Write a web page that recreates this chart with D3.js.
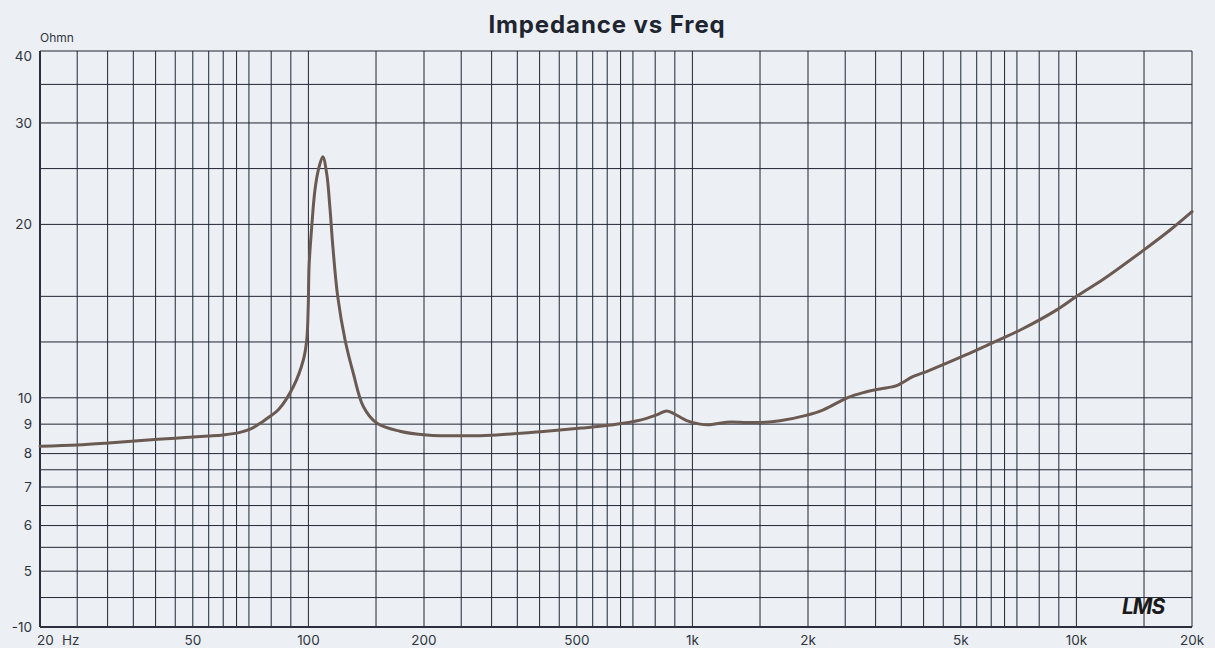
<!DOCTYPE html>
<html>
<head>
<meta charset="utf-8">
<script src="https://cdn.jsdelivr.net/npm/d3@7"></script>
<style>
  html, body { margin: 0; padding: 0; background: #ecf0f5; }
  svg { display: block; }
  text { font-family: Inter, "Noto Sans", sans-serif; }
</style>
</head>
<body>
<svg id="chart" width="1215" height="648"></svg>
<script>
// ---- data ----
const freq = [20, 25, 29.8, 36, 45, 55, 60, 66, 71, 76, 79, 83.5, 91.4, 97, 99, 99.9, 100.4, 102, 104, 106.2, 109,
  111.6, 113.7, 115.8, 119.2, 124.6, 130.9, 139, 150.6, 173, 203, 253, 309, 409, 515, 622, 719, 807, 857, 891,
  966, 1047, 1112, 1228, 1384, 1500, 1690, 1965, 2193, 2547, 2787, 3080, 3404, 3760, 4115, 5150, 6140, 7205,
  8888, 10080, 11750, 14790, 17540, 20000];
const impedance = [8.24, 8.28, 8.34, 8.42, 8.51, 8.58, 8.62, 8.70, 8.84, 9.09, 9.26, 9.53, 10.46, 11.63, 12.6, 14.4, 16.9, 19.8, 22.95, 24.9, 26.2,
  24.5, 21.5, 18.3, 15.0, 12.6, 11.03, 9.66, 9.04, 8.75, 8.62, 8.59, 8.62, 8.74, 8.86, 8.98, 9.12, 9.34, 9.49, 9.40,
  9.13, 9.0, 8.98, 9.07, 9.06, 9.06, 9.12, 9.31, 9.53, 10.02, 10.21, 10.36, 10.50, 10.89, 11.14, 11.87, 12.52, 13.15,
  14.21, 15.05, 16.06, 17.94, 19.56, 21.05];

const xGridValues = [20, 25, 30, 35, 40, 45, 50, 55, 60, 65, 70, 80, 90,
  100, 150, 200, 250, 300, 350, 400, 450, 500, 550, 600, 650, 700, 800, 900,
  1000, 1500, 2000, 2500, 3000, 3500, 4000, 4500, 5000, 5500, 6000, 6500, 7000, 8000, 9000,
  10000, 15000, 20000];
const yGridValues = [4, 4.5, 5, 5.5, 6, 6.5, 7, 7.5, 8, 9, 10, 12.5, 15, 20, 25, 30, 35, 40];

const xTickValues = [20, 50, 100, 200, 500, 1000, 2000, 5000, 10000, 20000];
const xTickLabels = ["20", "50", "100", "200", "500", "1k", "2k", "5k", "10k", "20k"];
const yTickValues = [40, 30, 20, 10, 9, 8, 7, 6, 5, 4];
const yTickLabels = ["40", "30", "20", "10", "9", "8", "7", "6", "5", "-10"];

const titleText = "Impedance vs Freq";
const yUnit = "Ohmn";
const xUnit = "Hz";
const watermark = "LMS";

// ---- layout ----
const W = 1215, H = 648;
const M = { left: 40, right: 23, top: 51, bottom: 21 };
const svg = d3.select("#chart");
svg.append("rect").attr("width", W).attr("height", H).attr("fill", "#ecf0f5");

const x = d3.scaleLog().domain([20, 20000]).range([M.left, W - M.right]);
const y = d3.scaleLog().domain([4, 40]).range([H - M.bottom, M.top]);

const gridColor = "#1f2633";
const g = svg.append("g");

// vertical grid
g.append("g").selectAll("line").data(xGridValues).join("line")
  .attr("x1", d => x(d)).attr("x2", d => x(d))
  .attr("y1", y(40)).attr("y2", y(4))
  .attr("stroke", gridColor).attr("stroke-width", 1);

// horizontal grid
g.append("g").selectAll("line").data(yGridValues).join("line")
  .attr("x1", x(20)).attr("x2", x(20000))
  .attr("y1", d => y(d)).attr("y2", d => y(d))
  .attr("stroke", gridColor).attr("stroke-width", 1);

// frame (left and bottom axis heavier)
g.append("line").attr("x1", x(20)).attr("x2", x(20)).attr("y1", y(40)).attr("y2", y(4))
  .attr("stroke", "#2a313c").attr("stroke-width", 2);
g.append("line").attr("x1", x(20)).attr("x2", x(20000)).attr("y1", y(4)).attr("y2", y(4))
  .attr("stroke", "#2a313c").attr("stroke-width", 2);

// y tick labels
svg.append("g").selectAll("text").data(yTickValues).join("text")
  .attr("x", M.left - 8)
  .attr("y", d => y(d))
  .attr("dy", (d, i) => d === 40 ? "0.75em" : "0.35em")
  .attr("text-anchor", "end")
  .attr("font-size", 13.5)
  .attr("fill", "#2f3540")
  .text((d, i) => yTickLabels[i]);

// x tick labels
svg.append("g").selectAll("text").data(xTickValues).join("text")
  .attr("x", d => x(d))
  .attr("y", H - 3)
  .attr("text-anchor", (d, i) => i === 0 ? "start" : "middle")
  .attr("dx", (d, i) => i === 0 ? -3 : 0)
  .attr("font-size", 13.5)
  .attr("fill", "#2f3540")
  .text((d, i) => xTickLabels[i]);

svg.append("text").attr("x", x(20) + 22).attr("y", H - 3)
  .attr("font-size", 13.5).attr("fill", "#2f3540").text(xUnit);

svg.append("text").attr("x", M.left).attr("y", 42)
  .attr("font-size", 12).attr("fill", "#2f3540").text(yUnit);

// title
svg.append("text").attr("x", 607).attr("y", 33)
  .attr("text-anchor", "middle")
  .attr("font-size", 24).attr("font-weight", 700)
  .attr("letter-spacing", 0.9)
  .attr("fill", "#1f2530")
  .text(titleText);

// curve
const pts = freq.map((f, i) => [f, impedance[i]]);
const line = d3.line().x(d => x(d[0])).y(d => y(d[1])).curve(d3.curveCatmullRom.alpha(0.5));
svg.append("path").attr("d", line(pts))
  .attr("fill", "none").attr("stroke", "#6b5a52").attr("stroke-width", 3)
  .attr("stroke-linejoin", "round").attr("stroke-linecap", "round");

// watermark
svg.append("text").attr("x", 1122).attr("y", 614)
  .attr("font-family", "'DejaVu Sans', sans-serif")
  .attr("font-style", "italic").attr("font-weight", 700)
  .attr("font-size", 21).attr("letter-spacing", -1)
  .attr("fill", "#1a1a1a")
  .text(watermark);
</script>
</body>
</html>
